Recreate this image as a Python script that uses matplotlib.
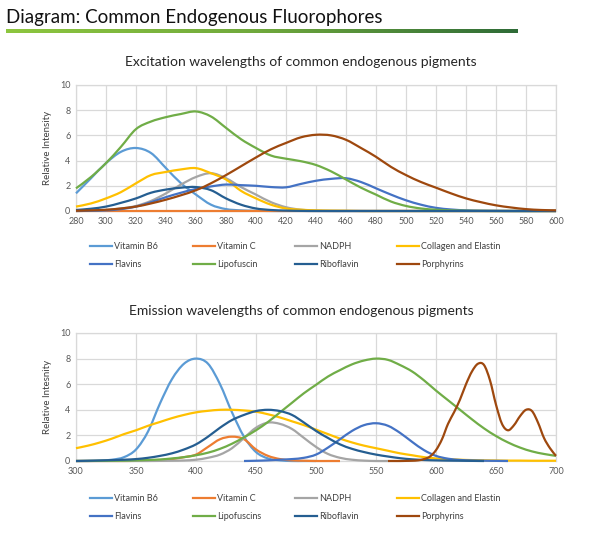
import numpy as np
import matplotlib
matplotlib.use("Agg")
import matplotlib.pyplot as plt
from matplotlib.path import Path
from matplotlib.patches import PathPatch
from matplotlib.lines import Line2D
from matplotlib.colors import LinearSegmentedColormap

# ---------------- data ----------------
names_ex = ["Vitamin B6", "Vitamin C", "NADPH", "Collagen and Elastin",
            "Flavins", "Lipofuscin", "Riboflavin", "Porphyrins"]
names_em = ["Vitamin B6", "Vitamin C", "NADPH", "Collagen and Elastin",
            "Flavins", "Lipofuscins", "Riboflavin", "Porphyrins"]
colors = ["#5B9BD5", "#ED7D31", "#A5A5A5", "#FFC000",
          "#4472C4", "#70AD47", "#255E91", "#9E480E"]

# Excitation (280-600 nm, every 10 nm)
ex_wl = list(range(280, 601, 10))
ex_b6 = [1.4, 2.6, 3.8, 4.7, 5.0, 4.6, 3.4, 2.2, 1.3, 0.5, 0.15, 0.05, 0.02] + [0] * 20
ex_vitc = [0] * 33
ex_nadph = [0, 0.02, 0.08, 0.2, 0.4, 0.8, 1.4, 2.1, 2.7, 3.0, 2.6, 1.9, 1.3, 0.7, 0.3, 0.1, 0.03] + [0] * 16
ex_collagen = [0.35, 0.6, 1.0, 1.5, 2.2, 2.85, 3.1, 3.3, 3.4, 3.0, 2.5, 1.6, 1.0, 0.5, 0.2, 0.1,
               0.05, 0.03, 0.02] + [0] * 14
ex_flavins = [0, 0.02, 0.05, 0.15, 0.35, 0.7, 1.1, 1.45, 1.75, 1.95, 2.1, 2.05, 2.0, 1.9, 1.88, 2.15,
              2.4, 2.55, 2.6, 2.3, 1.8, 1.3, 0.85, 0.5, 0.25, 0.12, 0.05, 0.02, 0.01, 0, 0, 0, 0]
ex_lipofuscin = [1.8, 2.7, 3.8, 5.1, 6.5, 7.1, 7.45, 7.7, 7.9, 7.5, 6.6, 5.7, 5.0, 4.4, 4.15, 3.95,
                 3.65, 3.15, 2.5, 1.85, 1.3, 0.75, 0.4, 0.2, 0.1, 0.05, 0.02, 0.01, 0, 0, 0, 0, 0]
ex_riboflavin = [0.08, 0.18, 0.35, 0.65, 1.0, 1.45, 1.7, 1.85, 1.9, 1.65, 1.0, 0.5, 0.2, 0.08, 0.03,
                 0.01] + [0] * 17
ex_porphyrins = [0.02, 0.05, 0.1, 0.2, 0.35, 0.6, 0.9, 1.25, 1.65, 2.2, 2.85, 3.55, 4.25, 4.9, 5.4,
                 5.85, 6.05, 6.0, 5.65, 5.0, 4.3, 3.5, 2.85, 2.3, 1.85, 1.4, 1.0, 0.7, 0.45, 0.28,
                 0.15, 0.08, 0.05]

# Emission (each series has its own wavelength range)
em_wl_b6 = list(range(300, 501, 10))
em_b6 = [0, 0, 0.03, 0.1, 0.3, 0.9, 2.3, 4.5, 6.4, 7.6, 8.0, 7.6, 6.0, 3.8, 1.9, 0.7, 0.2, 0.05, 0, 0, 0]
em_wl_vitc = list(range(300, 521, 10))
em_vitc = [0, 0, 0, 0, 0, 0.01, 0.02, 0.05, 0.15, 0.3, 0.5, 1.1, 1.7, 1.9, 1.7, 0.9, 0.4, 0.15,
           0.05, 0.02, 0, 0, 0]
em_wl_nadph = list(range(300, 561, 10))
em_nadph = [0, 0, 0, 0, 0, 0, 0, 0.01, 0.02, 0.04, 0.1, 0.25, 0.5, 1.0, 1.8, 2.6, 3.0, 2.9, 2.5,
            1.8, 1.1, 0.55, 0.25, 0.1, 0.03, 0, 0]
em_wl_collagen = list(range(300, 701, 10))
em_collagen = [1.0, 1.2, 1.45, 1.75, 2.1, 2.4, 2.75, 3.05, 3.35, 3.6, 3.8,
               3.92, 4.0, 4.0, 3.95, 3.85, 3.65, 3.4, 3.1, 2.8, 2.45,
               2.1, 1.75, 1.45, 1.2, 1.0, 0.8, 0.6, 0.45, 0.3, 0.2,
               0.15, 0.1, 0.07, 0.05, 0.04, 0.03, 0.03, 0.02, 0.02, 0.02]
em_wl_flavins = list(range(440, 661, 10))
em_flavins = [0, 0.02, 0.05, 0.1, 0.15, 0.25, 0.5, 1.05, 1.7, 2.35, 2.8, 2.95, 2.75, 2.2, 1.5,
              0.85, 0.4, 0.18, 0.08, 0.04, 0.02, 0.01, 0]
em_wl_lipofuscins = list(range(300, 701, 10))
em_lipofuscins = [0, 0.005, 0.01, 0.02, 0.03, 0.05, 0.08, 0.12, 0.2, 0.3, 0.45,
                  0.65, 0.95, 1.35, 1.85, 2.4, 3.05, 3.8, 4.55, 5.3, 5.95,
                  6.6, 7.1, 7.55, 7.85, 8.0, 7.9, 7.5, 7.0, 6.3, 5.5,
                  4.75, 4.0, 3.25, 2.55, 1.95, 1.45, 1.05, 0.75, 0.55, 0.4]
em_wl_riboflavin = list(range(300, 641, 10))
em_riboflavin = [0, 0.02, 0.04, 0.07, 0.1, 0.15, 0.25, 0.4, 0.6, 0.9, 1.3,
                 1.9, 2.6, 3.2, 3.6, 3.9, 4.0, 3.9, 3.6, 3.0, 2.35,
                 1.8, 1.3, 0.95, 0.7, 0.5, 0.35, 0.22, 0.13, 0.08, 0.05,
                 0.03, 0.02, 0.01, 0]
em_wl_porphyrins = list(range(560, 701, 5))
em_porphyrins = [0, 0, 0, 0.01, 0.02, 0.05, 0.15, 0.35, 0.85,
                 1.7, 2.9, 3.8, 4.8, 6.0, 7.0, 7.6, 7.5, 6.3, 4.4,
                 2.9, 2.4, 2.8, 3.5, 4.0, 3.9, 3.0, 1.8, 1.0, 0.4]

ex_ticks = list(range(280, 601, 20))
em_ticks = list(range(300, 701, 50))
y_ticks = [0, 2, 4, 6, 8, 10]

title_main = "Diagram: Common Endogenous Fluorophores"
title_ex = "Excitation wavelengths of common endogenous pigments"
title_em = "Emission wavelengths of common endogenous pigments"
ylabel_ex = "Relative Intensity"
ylabel_em = "Relative Intesnity"

# ---------------- helpers ----------------
FONT = ["Lato", "DejaVu Sans"]
TICK_COLOR = "#595959"
GRID_COLOR = "#D9D9D9"
LW = 1.6


def smooth_path(xs, ys):
    """Catmull-Rom style smoothed path (like spreadsheet 'smoothed line')."""
    x = np.asarray(xs, float)
    y = np.asarray(ys, float)
    n = len(x)
    verts = [(x[0], y[0])]
    codes = [Path.MOVETO]
    for i in range(n - 1):
        p0 = np.array([x[max(i - 1, 0)], y[max(i - 1, 0)]])
        p1 = np.array([x[i], y[i]])
        p2 = np.array([x[i + 1], y[i + 1]])
        p3 = np.array([x[min(i + 2, n - 1)], y[min(i + 2, n - 1)]])
        c1 = p1 + (p2 - p0) / 6.0
        c2 = p2 - (p3 - p1) / 6.0
        verts += [tuple(c1), tuple(c2), tuple(p2)]
        codes += [Path.CURVE4] * 3
    return Path(verts, codes)


def draw_series(ax, xs, ys, color):
    patch = PathPatch(smooth_path(xs, ys), facecolor="none", edgecolor=color,
                      lw=LW, capstyle="butt", joinstyle="round", clip_on=False, zorder=3)
    ax.add_patch(patch)


def style_axes(ax, xticks, xlim):
    ax.set_xlim(*xlim)
    ax.set_ylim(0, 10)
    ax.set_xticks(xticks)
    ax.set_yticks(y_ticks)
    ax.grid(True, color=GRID_COLOR, lw=0.9, zorder=0)
    ax.set_axisbelow(True)
    for s in ax.spines.values():
        s.set_color(GRID_COLOR)
        s.set_linewidth(0.9)
    ax.tick_params(length=0, labelsize=6.5, labelcolor=TICK_COLOR, pad=4)
    for lab in ax.get_xticklabels() + ax.get_yticklabels():
        lab.set_family(FONT)


fig = plt.figure(figsize=(6.0, 5.38), dpi=100)
W, H = 600.0, 538.0


def fx(px):
    return px / W


def fy(py):
    return 1 - py / H


# Page title and gradient bar
fig.text(fx(6), fy(23), title_main, fontsize=13.5, family=FONT,
         color="#111111", ha="left", va="baseline")
bar_ax = fig.add_axes([fx(6), fy(33), fx(518) - fx(6), 4 / H])
cmap = LinearSegmentedColormap.from_list("g", ["#8DC63F", "#6FA83C", "#2E6B37"])
bar_ax.imshow(np.linspace(0, 1, 256)[None, :], aspect="auto", cmap=cmap)
bar_ax.set_axis_off()

# Axes
ax1 = fig.add_axes([fx(76), fy(211), fx(556) - fx(76), (211 - 85) / H])
ax2 = fig.add_axes([fx(76), fy(461), fx(556) - fx(76), (461 - 333) / H])

ex_series = [ex_b6, ex_vitc, ex_nadph, ex_collagen, ex_flavins, ex_lipofuscin,
             ex_riboflavin, ex_porphyrins]
for ys, c in zip(ex_series, colors):
    draw_series(ax1, ex_wl, ys, c)
style_axes(ax1, ex_ticks, (280, 600))

em_series = [(em_wl_b6, em_b6), (em_wl_vitc, em_vitc), (em_wl_nadph, em_nadph),
             (em_wl_collagen, em_collagen), (em_wl_flavins, em_flavins),
             (em_wl_lipofuscins, em_lipofuscins), (em_wl_riboflavin, em_riboflavin),
             (em_wl_porphyrins, em_porphyrins)]
for (xs, ys), c in zip(em_series, colors):
    draw_series(ax2, xs, ys, c)
style_axes(ax2, em_ticks, (300, 700))

# Chart titles
fig.text(fx(301), fy(62), title_ex, fontsize=10, family=FONT, color="#262626",
         ha="center", va="center")
fig.text(fx(301), fy(311), title_em, fontsize=10, family=FONT, color="#262626",
         ha="center", va="center")

# Y labels
fig.text(fx(48), fy(148), ylabel_ex, fontsize=7, family=FONT, color="#404040",
         rotation=90, ha="center", va="center")
fig.text(fx(48), fy(397), ylabel_em, fontsize=7, family=FONT, color="#404040",
         rotation=90, ha="center", va="center")


# Legends: four fixed-width columns, row-major order like the original
def add_legend(names, top_py):
    col_x = [90, 193, 295, 397]
    for c in range(4):
        idx = [c, c + 4]
        handles = [Line2D([0], [0], color=colors[i], lw=LW) for i in idx]
        leg = fig.legend(handles, [names[i] for i in idx],
                         ncol=1, loc="upper left", bbox_to_anchor=(fx(col_x[c]), fy(top_py)),
                         frameon=False, handlelength=2.45, handletextpad=0.2,
                         labelspacing=1.05, borderpad=0, borderaxespad=0,
                         prop={"family": FONT, "size": 6.5})
        for t in leg.get_texts():
            t.set_color("#404040")


add_legend(names_ex, 242)
add_legend(names_em, 494)

fig.savefig("out.png", dpi=100)
